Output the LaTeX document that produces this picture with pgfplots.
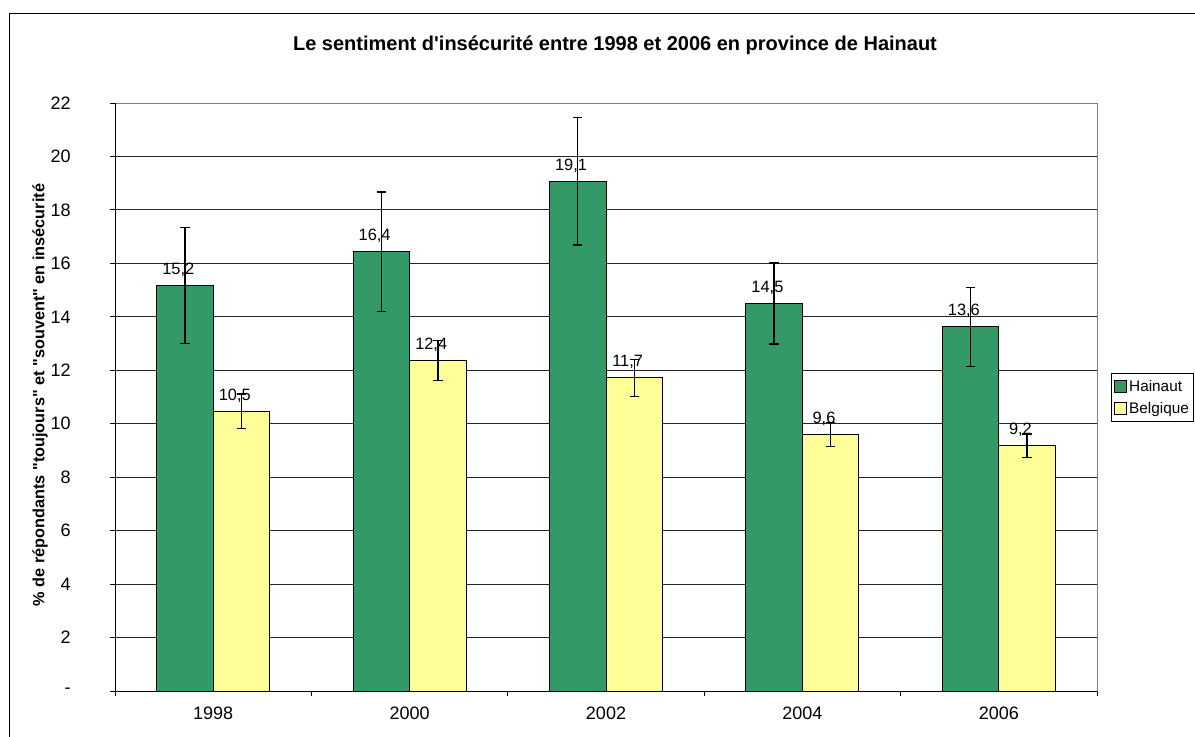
\documentclass[border=0pt]{standalone}
\usepackage{pgfplots}
\pgfplotsset{compat=1.18}
\usepackage{pgfplotstable}
\usepackage{fontspec}
\setmainfont{Liberation Sans}[Ligatures=TeXOff]
\definecolor{hain}{RGB}{51,153,102}
\definecolor{belg}{RGB}{255,255,153}

% x = year index, y = bar, e = error, lab = printed label
\pgfplotstableread{
x y e lab
0 15.18 2.17 15.2
1 16.44 2.23 16.4
2 19.07 2.38 19.1
3 14.50 1.52 14.5
4 13.62 1.47 13.6
}\hainaut
\pgfplotstableread{
x y e lab
0 10.46 0.65 10.5
1 12.36 0.75 12.4
2 11.72 0.69 11.7
3 9.59 0.45 9.6
4 9.17 0.44 9.2
}\belgique

\begin{document}
\begin{tikzpicture}
\begin{scope}[x=0.75pt,y=-0.75pt]
  \useasboundingbox (0,0) rectangle (1195,736);
  \draw[line width=0.75pt] (9.5,13.5) rectangle (1210,750);
  \node[font=\bfseries\fontsize{15}{18}\selectfont] at (615,45)
    {Le sentiment d'insécurité entre 1998 et 2006 en province de Hainaut};
  \node[font=\bfseries\fontsize{12.2}{14}\selectfont, rotate=90] at (40,395)
    {\% de répondants "toujours" et "souvent" en insécurité};
\end{scope}
\begin{axis}[
  at={(86.25pt,-518.25pt)}, anchor=south west,
  scale only axis, width=736.5pt, height=441pt,
  xmin=-0.5, xmax=4.5, ymin=0, ymax=22,
  axis line style={draw=black!50, line width=0.75pt},
  xtick={0,...,4}, xticklabels={1998,2000,2002,2004,2006},
  major x tick style={draw=none},
  minor xtick={-0.5,0.5,...,4.5},
  minor x tick style={black, line width=0.75pt},
  ytick={0,2,...,22},
  yticklabels={-,2,4,6,8,10,12,14,16,18,20,22},
  y tick style={black, line width=0.75pt},
  tick align=outside, tick pos=left,
  major tick length=3.75pt, minor tick length=3.75pt,
  ymajorgrids, major grid style={black!85, line width=0.75pt},
  tick label style={font=\fontsize{13.5}{15}\selectfont},
  yticklabel style={xshift=-26pt},
  xticklabel style={yshift=-5pt},
  ybar, bar width=0.288,
  nodes near coords,
  point meta=explicit,
  every node near coord/.append style={font=\fontsize{12.3}{14}\selectfont,
    anchor=south, xshift=-5pt, yshift=3pt,
    /pgf/number format/.cd, use comma, fixed, fixed zerofill, precision=1,
    assume math mode=true},
  legend style={at={(1.0143,0.5408)}, anchor=north west, draw=black,
    line width=0.75pt, font=\fontsize{11.5}{13}\selectfont,
    inner xsep=1.5pt, inner ysep=3pt, row sep=2.5pt},
  legend image code/.code={\draw[#1, line width=0.75pt] (0pt,-4.5pt) rectangle (9pt,4.5pt);},
  legend cell align=left,
  error bars/error mark options={rotate=90, mark size=3.5pt, black, line width=1pt},
]
\addplot[fill=hain, draw=black, line width=0.75pt, bar shift=-0.144,
  error bars/.cd, y dir=both, y explicit,
  error bar style={black, line width=1pt}]
  table[x=x, y=y, y error=e, meta=lab] {\hainaut};
\addlegendentry{Hainaut}
\addplot[fill=belg, draw=black, line width=0.75pt, bar shift=0.144,
  error bars/.cd, y dir=both, y explicit,
  error bar style={black, line width=1pt}]
  table[x=x, y=y, y error=e, meta=lab] {\belgique};
\addlegendentry{Belgique}
\draw[black, line width=0.75pt] (axis cs:-0.5,22) -- (axis cs:-0.5,0) -- (axis cs:4.5,0);
\end{axis}
\end{tikzpicture}
\end{document}
